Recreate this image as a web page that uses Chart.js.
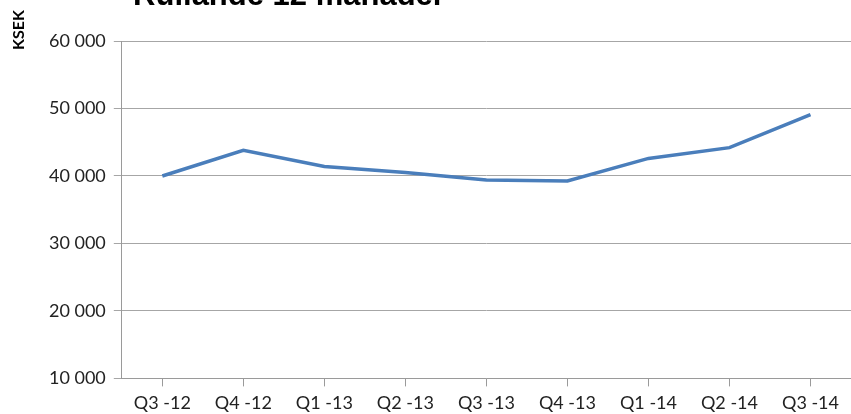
<!DOCTYPE html>
<html>
<head>
<meta charset="utf-8">
<script src="https://cdn.jsdelivr.net/npm/chart.js@4.4.0/dist/chart.umd.min.js"></script>
<style>
  html, body { margin: 0; padding: 0; background: #fff; overflow: hidden; }
  #klipp { width: 851px; height: 414px; overflow: hidden; }
  #wrap { position: relative; width: 851px; height: 420px; }
</style>
</head>
<body>
<div id="klipp"><div id="wrap"><canvas id="kurva"></canvas></div></div>
<script>
const kvartal = ['Q3 -12', 'Q4 -12', 'Q1 -13', 'Q2 -13', 'Q3 -13', 'Q4 -13', 'Q1 -14', 'Q2 -14', 'Q3 -14'];
const rullande = [40000, 43800, 41400, 40500, 39400, 39250, 42600, 44200, 49100];
const titel = 'Rullande 12 månader';
const enhet = 'KSEK';

function formatera(v) {
    return String(v).replace(/\B(?=(\d{3})+(?!\d))/g, ' ');
}

// titel (avklippt upptill) och enhetsetikett
const texter = {
    id: 'texter',
    afterDraw(c) {
        const ctx = c.ctx;
        ctx.save();
        ctx.fillStyle = '#000';
        ctx.font = 'bold 31px "Liberation Sans", Arial, sans-serif';
        ctx.textAlign = 'center';
        ctx.textBaseline = 'alphabetic';
        ctx.fillText(titel, 289, 5);
        ctx.translate(19, 30);
        ctx.rotate(-Math.PI / 2);
        ctx.font = 'bold 16px Lato, sans-serif';
        ctx.textBaseline = 'middle';
        ctx.fillText(enhet, 0, 0);
        ctx.restore();
    }
};

const ctx = document.getElementById('kurva').getContext('2d');
const chart = new Chart(ctx, {
    type: 'line',
    data: {
        labels: kvartal,
        datasets: [{
            data: rullande,
            borderColor: '#4a7ebb',
            borderWidth: 3.5,
            pointRadius: 0,
            tension: 0,
            fill: false
        }]
    },
    options: {
        responsive: true,
        maintainAspectRatio: false,
        animation: false,
        layout: { padding: { left: 41, top: 41, right: 0, bottom: 0 } },
        plugins: {
            legend: { display: false },
            tooltip: { enabled: false }
        },
        scales: {
            x: {
                offset: true,
                grid: {
                    offset: false,
                    drawOnChartArea: false,
                    drawTicks: true,
                    tickLength: 8,
                    color: '#9a9a9a'
                },
                border: { color: '#9a9a9a' },
                ticks: {
                    color: '#222',
                    font: { family: 'Lato', size: 18 },
                    padding: 6,
                    maxRotation: 0,
                    autoSkip: false
                }
            },
            y: {
                min: 10000,
                max: 60000,
                grid: {
                    color: '#a6a6a6',
                    tickLength: 8
                },
                border: { color: '#9a9a9a' },
                ticks: {
                    stepSize: 10000,
                    color: '#222',
                    font: { family: 'Lato', size: 18 },
                    padding: 8,
                    callback: v => formatera(v)
                }
            }
        }
    },
    plugins: [texter]
});
</script>
</body>
</html>
